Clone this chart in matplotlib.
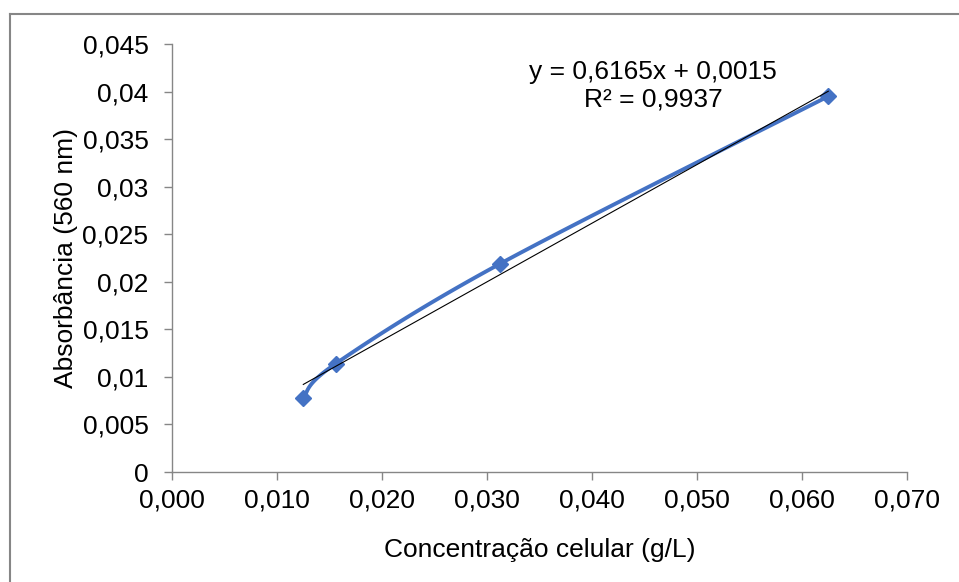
import numpy as np
import matplotlib.pyplot as plt
from matplotlib.lines import Line2D
from matplotlib.ticker import FuncFormatter

plt.rcParams['font.family'] = ['Liberation Sans', 'DejaVu Sans']
plt.rcParams['font.size'] = 19

conc = [0.0125, 0.0156, 0.03125, 0.0625]
absorb = [0.0078, 0.0114, 0.0219, 0.0395]
slope = 0.6165
intercept = 0.0015
r2 = 0.9937

blue = '#4472C4'
gray = '#868686'


def smooth(x, y, n=40):
    # catmull-rom style smoothing like excel's smoothed line
    x = np.asarray(x)
    y = np.asarray(y)
    px = np.concatenate([[x[0]], x, [x[-1]]])
    py = np.concatenate([[y[0]], y, [y[-1]]])
    xs, ys = [], []
    t = np.linspace(0, 1, n)
    for i in range(1, len(px) - 2):
        p0 = np.array([px[i], py[i]])
        p3 = np.array([px[i + 1], py[i + 1]])
        c1 = p0 + (np.array([px[i + 1], py[i + 1]]) - np.array([px[i - 1], py[i - 1]])) / 6
        c2 = p3 - (np.array([px[i + 2], py[i + 2]]) - np.array([px[i], py[i]])) / 6
        pts = ((1 - t) ** 3)[:, None] * p0 + (3 * (1 - t) ** 2 * t)[:, None] * c1 \
            + (3 * (1 - t) * t ** 2)[:, None] * c2 + (t ** 3)[:, None] * p3
        xs.extend(pts[:, 0])
        ys.extend(pts[:, 1])
    return xs, ys


fig = plt.figure(figsize=(9.59, 5.82), dpi=100)
ax = fig.add_axes([0.1794, 0.189, 0.7664, 0.7354])

sx, sy = smooth(conc, absorb)
ax.plot(sx, sy, color=blue, lw=2.8, zorder=2)
ax.plot(conc, absorb, ls='none', marker='D', ms=8, color=blue, zorder=3)

tx = np.array([conc[0], conc[-1]])
ax.plot(tx, slope * tx + intercept, color='black', lw=0.8, zorder=4)

ax.text(0.0458, 0.0406, f'y = {slope:.4f}x + {intercept:.4f}'.replace('.', ',')
        + f'\nR² = {r2:.4f}'.replace('.', ','), ha='center', va='center',
        fontsize=19, linespacing=1.22)

ax.set_xlim(0, 0.07)
ax.set_ylim(0, 0.045)
ax.set_xticks(np.arange(0, 0.0701, 0.01))
ax.set_yticks(np.arange(0, 0.0451, 0.005))
ax.xaxis.set_major_formatter(FuncFormatter(lambda v, p: f'{v:.3f}'.replace('.', ',')))
ax.yaxis.set_major_formatter(FuncFormatter(
    lambda v, p: '0' if abs(v) < 1e-9 else (f'{v:.3f}'.rstrip('0')).replace('.', ',')))

for s in ['top', 'right']:
    ax.spines[s].set_visible(False)
for s in ['left', 'bottom']:
    ax.spines[s].set_color(gray)
    ax.spines[s].set_linewidth(1)
ax.tick_params(direction='out', length=6, color=gray, width=1, labelsize=19)
ax.tick_params(axis='y', pad=11)
ax.tick_params(axis='x', pad=6)

ax.set_xlabel('Concentração celular (g/L)', fontsize=19, labelpad=18)
ax.set_ylabel('Absorbância (560 nm)', fontsize=19, labelpad=3)

# chart area border
fig.add_artist(Line2D([10 / 959, 10 / 959], [0, 1 - 14 / 582], color=gray, lw=1.5))
fig.add_artist(Line2D([10 / 959, 1], [1 - 14 / 582, 1 - 14 / 582], color=gray, lw=1.5))

fig.savefig('out.png', dpi=100)
